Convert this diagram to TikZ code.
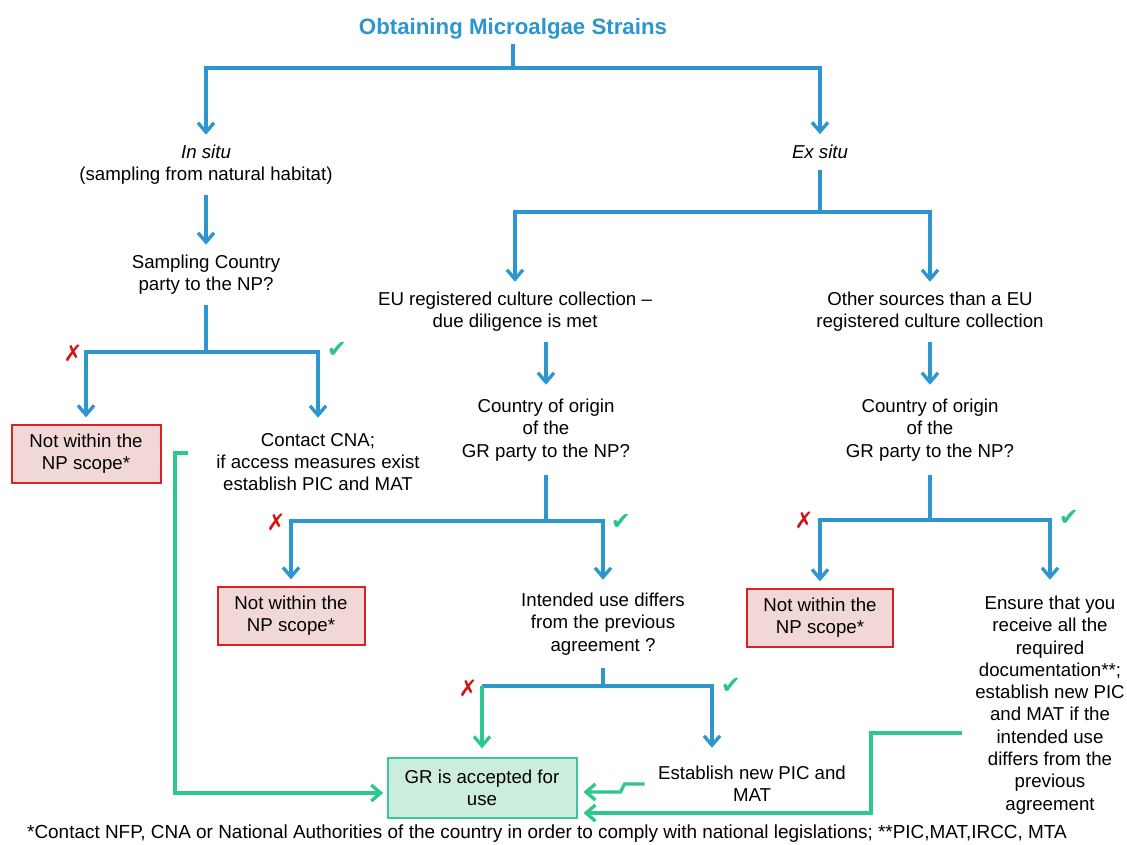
\documentclass[tikz,border=0pt]{standalone}
\usepackage{fontspec}
\setmainfont{Liberation Sans}
\newfontfamily\djv{DejaVu Sans}
\usetikzlibrary{arrows.meta}
\definecolor{fblue}{RGB}{45,150,205}
\definecolor{fgreen}{RGB}{45,200,140}
\definecolor{bred}{RGB}{215,35,35}
\definecolor{bredf}{RGB}{242,215,215}
\definecolor{bgreen}{RGB}{60,200,150}
\definecolor{bgreenf}{RGB}{204,236,222}
\definecolor{xred}{RGB}{210,20,20}
\definecolor{ckgreen}{RGB}{40,200,130}
\begin{document}
\begin{tikzpicture}[x=0.75pt,y=-0.75pt,
  bl/.style={draw=fblue,line width=2.5pt},
  barr/.style={bl,-{Straight Barb[length=7pt,width=12pt]}},
  gl/.style={draw=fgreen,line width=2.5pt},
  garr/.style={gl,-{Straight Barb[length=7pt,width=12pt]}},
  txt/.style={inner sep=0pt,align=center,font=\fontsize{14}{16.7}\selectfont},
  rbox/.style={draw=bred,fill=bredf,line width=1.5pt,align=center,inner sep=0pt,
    minimum height=43.5pt,font=\fontsize{14}{16.7}\selectfont},
  gbox/.style={draw=bgreen,fill=bgreenf,line width=1.5pt,align=center,inner sep=0pt,
    font=\fontsize{14}{16.7}\selectfont},
  xm/.style={text=xred,font=\djv\fontsize{17}{17}\selectfont,inner sep=0pt},
  ck/.style={text=ckgreen,font=\djv\fontsize{18}{18}\selectfont,inner sep=0pt}]
\fill[white] (0,0) rectangle (1127,845);
\useasboundingbox (0,0) rectangle (1127,845);

% nodes
\node[text=fblue,font=\bfseries\fontsize{16.7}{20}\selectfont,inner xsep=0pt,inner ysep=3pt] (title) at (513,29) {Obtaining Microalgae Strains};
\node[txt,minimum height=45pt] (insitu) at (206,165) {{\itshape In situ}\\(sampling from natural habitat)};
\node[txt,minimum height=45pt] (samp) at (206,275) {Sampling Country\\party to the NP?};
\node[txt,minimum height=66pt] (contact) at (318,462) {Contact CNA;\\if access measures exist\\establish PIC and MAT};
\node[rbox,minimum width=111.75pt] (nw1) at (86,454) {Not within the\\NP scope*};
\node[txt,minimum height=26.25pt] (exsitu) at (820,152) {{\itshape Ex situ}};
\node[txt,minimum height=45pt] (eu) at (515,312) {EU registered culture collection --\\due diligence is met};
\node[txt,minimum height=45pt] (other) at (930,312) {Other sources than a EU\\registered culture collection};
\node[txt,minimum height=67.5pt] (coo1) at (546,430) {Country of origin\\of the\\GR party to the NP?};
\node[txt,minimum height=67.5pt] (coo2) at (930,430) {Country of origin\\of the\\GR party to the NP?};
\node[rbox,minimum width=110.25pt] (nw2) at (291,616) {Not within the\\NP scope*};
\node[txt,minimum height=66pt] (intended) at (603,624) {Intended use differs\\from the previous\\agreement ?};
\node[rbox,minimum width=109.5pt] (nw3) at (820,618) {Not within the\\NP scope*};
\node[txt,minimum height=187.5pt,inner xsep=10pt] (ensure) at (1050,705) {Ensure that you\\receive all the\\required\\documentation**;\\establish new PIC\\and MAT if the\\intended use\\differs from the\\previous\\agreement};
\node[gbox,minimum width=141.75pt,minimum height=45pt] (gr) at (482,788) {GR is accepted for\\use};
\node[txt,minimum height=54pt,inner xsep=10pt] (establish) at (752,784) {Establish new PIC and\\MAT};
\node[font=\fontsize{14.2}{16}\selectfont,inner sep=0pt] (foot) at (547,834) {*Contact NFP, CNA or National Authorities of the country in order to comply with national legislations; **PIC,MAT,IRCC, MTA};

% junctions
\coordinate (j0) at (513,68);
\coordinate (j1) at (206,352);
\coordinate (j2) at (820,212);
\coordinate (j3) at (546,521);
\coordinate (j4) at (930,520);
\coordinate (j5) at (603,686);
\coordinate (gL) at (175,600);
\coordinate (gR) at (871,780);

% blue connectors
\draw[bl] (title.south) -- (j0);
\draw[barr] (j0) -| (insitu.north);
\draw[barr] (j0) -| (exsitu.north);
\draw[barr] (insitu.south) -- (samp.north);
\draw[bl] (samp.south) -- (j1);
\draw[barr,shorten >=5pt] (j1) -| (nw1.north);
\draw[barr] (j1) -| (contact.north);
\draw[bl] (exsitu.south) -- (j2);
\draw[barr] (j2) -| (eu.north);
\draw[barr] (j2) -| (other.north);
\draw[barr] (coo1.north |- eu.south) -- (coo1.north);
\draw[barr] (other.south) -- (coo2.north);
\draw[bl] (coo1.south) -- (j3);
\draw[barr,shorten >=5pt] (j3) -| (nw2.north);
\draw[barr] (j3) -| (intended.north);
\draw[bl] (coo2.south) -- (j4);
\draw[barr,shorten >=5pt] (j4) -| (nw3.north);
\draw[barr] (j4) -| (ensure.north);
\draw[bl] (intended.south) -- (j5);
\draw[bl] (j5) -- (gr.north |- j5);
\draw[barr] (j5) -| ([xshift=-30pt]establish.north);

% green connectors
\draw[garr,shorten >=6.5pt] (gr.north |- j5) -- (gr.north);
\draw[garr,shorten >=2.5pt] ([xshift=-21pt,yshift=6.75pt]contact.west) -| (gL) |- ([yshift=-3.75pt]gr.west);
\draw[garr,shorten >=4.5pt] (establish.west) -- ++(-15pt,0) -- ++(-3pt,-6pt) coordinate (ez) -- (ez -| gr.east);
\draw[garr,shorten >=4.5pt] ([yshift=-21pt]ensure.west) -| (gR) |- ([yshift=-18.75pt]gr.east);

% marks
\node[xm] (x1) at (73,353) {✗};
\node[ck] (c1) at (337,350) {✔};
\node[xm] (x2) at (276,522) {✗};
\node[ck] (c2) at (621,522) {✔};
\node[xm] (x3) at (804,520) {✗};
\node[ck] (c3) at (1069,518) {✔};
\node[xm] (x4) at (468,688) {✗};
\node[ck] (c4) at (731,686) {✔};
\end{tikzpicture}
\end{document}
